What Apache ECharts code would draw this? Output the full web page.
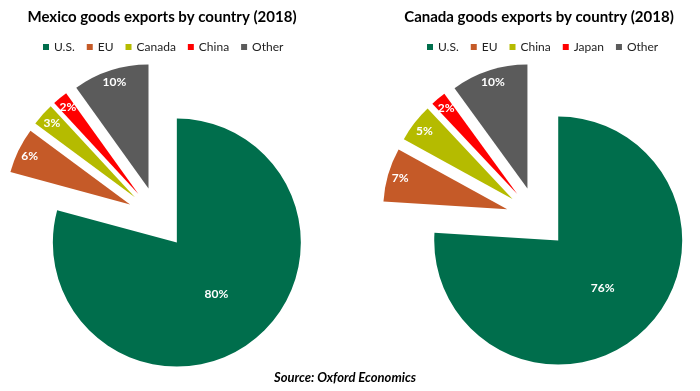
<!DOCTYPE html>
<html>
<head>
<meta charset="utf-8">
<script src="https://cdn.jsdelivr.net/npm/echarts@6/dist/echarts.min.js"></script>
<style>
  html, body { margin: 0; padding: 0; background: #ffffff; }
  #wrap { position: relative; width: 700px; height: 391px; }
  #left { position: absolute; left: 0; top: 0; width: 700px; height: 391px; }
  #right { position: absolute; left: 350px; top: 0; width: 350px; height: 391px; }
</style>
</head>
<body>
<div id="wrap"><div id="left"></div><div id="right"></div></div>
<script>
// ---- data ----
const mexicoTitle = 'Mexico goods exports by country (2018)';
const mexicoCategories = ['U.S.', 'EU', 'Canada', 'China', 'Other'];
const mexicoValues = [80, 6, 3, 2, 10];

const canadaTitle = 'Canada goods exports by country (2018)';
const canadaCategories = ['U.S.', 'EU', 'China', 'Japan', 'Other'];
const canadaValues = [76, 7, 5, 2, 10];

const sourceText = 'Source: Oxford Economics';

// ---- styles ----
const mexicoColors = ['#006E4C', '#C55A28', '#B5BB00', '#FF0000', '#5B5B5B'];
const canadaColors = ['#006E4C', '#C55A28', '#B5BB00', '#FF0000', '#5B5B5B'];
const FONT = 'Lato, "Open Sans", sans-serif';
const R = 124;
const OFFSET = 31;

function buildOption(title, cats, vals, colors, cx, cy, tx, lx, extraGraphic) {
  const dataMain = cats.map((n, i) => ({
    name: n, value: vals[i], selected: true,
    itemStyle: { color: colors[i] },
    label: { show: i === 0 }
  }));
  const dataLbl = cats.map((n, i) => ({
    name: n, value: vals[i], selected: true,
    itemStyle: { color: 'rgba(0,0,0,0)' },
    label: { show: i !== 0 }
  }));
  return {
    backgroundColor: 'transparent',
    animation: false,
    title: {
      text: title, left: tx, top: 5, textAlign: 'center',
      textStyle: { fontFamily: FONT, fontWeight: 'bold', fontSize: 15, color: '#000' }
    },
    legend: {
      data: cats, left: lx, top: 36, icon: 'rect',
      itemWidth: 6, itemHeight: 6, itemGap: 12, selectedMode: false,
      textStyle: { fontFamily: FONT, fontSize: 12, color: '#222' }
    },
    graphic: extraGraphic || [],
    series: [
      {
        type: 'pie', center: [cx, cy], radius: R, startAngle: 90, clockwise: true,
        selectedMode: 'multiple', selectedOffset: OFFSET, silent: true,
        label: { position: 'inside', formatter: '{c}%', color: '#fff',
                 fontFamily: FONT, fontWeight: 'bold', fontSize: 12 },
        labelLine: { show: false },
        emphasis: { disabled: true },
        data: dataMain
      },
      {
        type: 'pie', center: [cx, cy], radius: [R * 0.75, R], startAngle: 90, clockwise: true,
        selectedMode: 'multiple', selectedOffset: OFFSET, silent: true,
        label: { position: 'inside', formatter: '{c}%', color: '#fff',
                 fontFamily: FONT, fontWeight: 'bold', fontSize: 12 },
        labelLine: { show: false },
        emphasis: { disabled: true },
        data: dataLbl
      }
    ]
  };
}

const left = echarts.init(document.getElementById('left'), null, { renderer: 'canvas' });
left.setOption(buildOption(mexicoTitle, mexicoCategories, mexicoValues, mexicoColors,
  158, 218, 157, 38, [{
    type: 'text', x: 345, y: 378,
    style: { text: sourceText, textAlign: 'center', textVerticalAlign: 'middle',
             font: 'italic bold 13px ' + FONT, fill: '#000' }
  }]));

const right = echarts.init(document.getElementById('right'), null, { renderer: 'canvas' });
right.setOption(buildOption(canadaTitle, canadaCategories, canadaValues, canadaColors,
  187, 218, 184, 72));
</script>
</body>
</html>
